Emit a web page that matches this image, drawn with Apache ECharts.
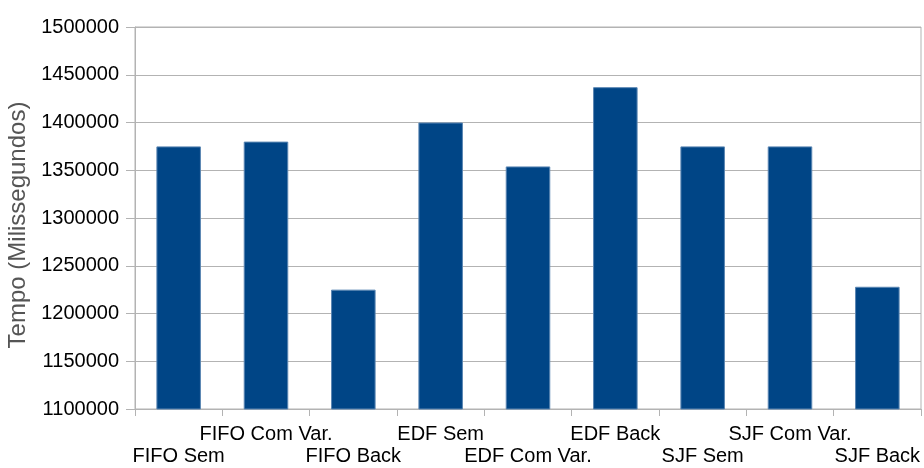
<!DOCTYPE html>
<html>
<head>
<meta charset="utf-8">
<script src="https://cdn.jsdelivr.net/npm/echarts@6/dist/echarts.min.js"></script>
<style>html,body{margin:0;padding:0;background:#fff}#c{width:924px;height:468px}</style>
</head>
<body>
<div id="c"></div>
<script>
var categories = ['FIFO Sem', 'FIFO Com Var.', 'FIFO Back', 'EDF Sem', 'EDF Com Var.', 'EDF Back', 'SJF Sem', 'SJF Com Var.', 'SJF Back'];
var values = [1375000, 1380000, 1225000, 1400000, 1354000, 1437000, 1375000, 1375000, 1228000];
var yMin = 1100000, yMax = 1500000, yStep = 50000;
var yName = 'Tempo (Milissegundos)';

var chart = echarts.init(document.getElementById('c'));
chart.setOption({
  animation: false,
  grid: { left: 135, right: 3, top: 27, bottom: 59, show: true, borderColor: '#b3b3b3', borderWidth: 1, containLabel: false, outerBoundsMode: 'none' },
  xAxis: {
    type: 'category',
    data: categories,
    axisLine: { lineStyle: { color: '#b3b3b3' } },
    axisTick: { show: true, length: 7, lineStyle: { color: '#b3b3b3' } },
    axisLabel: {
      interval: 0, margin: 14, color: '#000', fontFamily: 'Liberation Sans', fontSize: 20, lineHeight: 22,
      hideOverlap: false,
      formatter: function (v, i) { return i % 2 === 0 ? '\n' + v : v; }
    }
  },
  yAxis: {
    type: 'value', min: yMin, max: yMax, interval: yStep,
    name: yName, nameLocation: 'middle', nameGap: 103,
    nameTextStyle: { color: '#555', fontFamily: 'Liberation Sans', fontSize: 24, padding: [0, 14, 0, 0] },
    axisLine: { show: true, lineStyle: { color: '#b3b3b3' } },
    axisTick: { show: true, length: 9, lineStyle: { color: '#b3b3b3' } },
    splitLine: { lineStyle: { color: '#b3b3b3' } },
    axisLabel: { margin: 16, color: '#000', fontFamily: 'Liberation Sans', fontSize: 20, formatter: function (v) { return String(v); } }
  },
  series: [{
    type: 'bar', data: values, barWidth: '51%',
    itemStyle: { color: '#004586', borderColor: '#5a86b3', borderWidth: 1 }
  }]
});
</script>
</body>
</html>
